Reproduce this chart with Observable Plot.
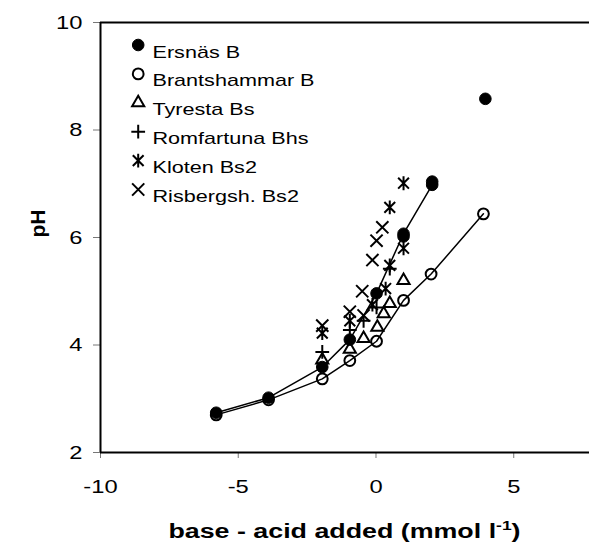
<!DOCTYPE html>
<html><head><meta charset="utf-8">
<script src="https://cdn.jsdelivr.net/npm/d3@7"></script>
<script src="https://cdn.jsdelivr.net/npm/@observablehq/plot@0.6"></script>
<style>body{margin:0;background:#fff}</style>
</head><body><div id="chart"></div>
<script>
// ---- data ----
const seriesNames = ["Ersnäs B","Brantshammar B","Tyresta Bs","Romfartuna Bhs","Kloten Bs2","Risbergsh. Bs2"];
const ersnasX = [-5.8,-3.9,-1.95,-0.95,0.02,1.0,2.04];
const ersnasY = [2.74,3.02,3.59,4.10,4.96,6.07,6.98];
const ersnasExtraX = [1.0,2.04,3.97];
const ersnasExtraY = [6.02,7.04,8.58];
const brantX = [-5.8,-3.9,-1.95,-0.95,0.02,1.0,2.0,3.9];
const brantY = [2.70,2.98,3.37,3.71,4.07,4.83,5.32,6.44];
const tyrestaX = [-1.95,-0.95,-0.45,0.05,0.28,0.5,1.0];
const tyrestaY = [3.72,3.92,4.12,4.33,4.58,4.77,5.2];
const romfX = [-1.95,-0.95,-0.45,0.02,0.5];
const romfY = [3.87,4.28,4.45,4.70,5.42];
const klotenX = [-1.95,-0.95,-0.13,0.35,0.5,1.0,0.5,1.0];
const klotenY = [4.22,4.45,4.75,5.05,5.48,5.80,6.56,7.01];
const risbX = [-1.95,-0.95,-0.45,-0.5,-0.13,0.02,0.23];
const risbY = [4.36,4.62,4.55,5.0,5.58,5.94,6.19];
const xTicks = [-10,-5,0,5];
const yTicks = [2,4,6,8,10];

const zip = (xs, ys) => xs.map((x, i) => ({x, y: ys[i]}));
const ersnas = zip(ersnasX, ersnasY);
const ersnasExtra = zip(ersnasExtraX, ersnasExtraY);
const brant = zip(brantX, brantY);
const tyresta = zip(tyrestaX, tyrestaY);
const romf = zip(romfX, romfY);
const kloten = zip(klotenX, klotenY);
const risb = zip(risbX, risbY);

// X with a vertical stroke (Excel-style asterisk)
const starSymbol = {
  draw(context, size) {
    const r = Math.sqrt(size) * 0.62;
    const d = r * 0.78;
    context.moveTo(0, -r); context.lineTo(0, r);
    context.moveTo(-d, -d); context.lineTo(d, d);
    context.moveTo(-d, d); context.lineTo(d, -d);
  }
};

const styles = [
  {symbol: "circle", fill: "#000", stroke: "#000", r: 5.8, strokeWidth: 1},
  {symbol: "circle", fill: "none", stroke: "#000", r: 5.4, strokeWidth: 2},
  {symbol: "triangle2", fill: "none", stroke: "#000", r: 5.8, strokeWidth: 2},
  {symbol: "plus", fill: "none", stroke: "#000", r: 4.5, strokeWidth: 2},
  {symbol: starSymbol, fill: "none", stroke: "#000", r: 6.3, strokeWidth: 2},
  {symbol: "times", fill: "none", stroke: "#000", r: 5.6, strokeWidth: 2}
];

const legendMarks = seriesNames.flatMap((name, i) => [
  Plot.dot([name], {frameAnchor: "top-left", dx: 37.7, dy: 22.5 + i * 28.9, ...styles[i]}),
  Plot.text([name], {frameAnchor: "top-left", dx: 52, dy: 23 + i * 28.9, textAnchor: "start", fontSize: 17, fill: "#000", className: "stretch-legend"})
]);

const FONT = "'Liberation Sans', Arial, Helvetica, sans-serif";
const plot = Plot.plot({
  width: 589, height: 557,
  marginLeft: 100, marginRight: 0, marginTop: 22, marginBottom: 105,
  x: {domain: [-10, 7.75]},
  y: {domain: [2, 10]},
  style: {fontFamily: FONT, fontSize: "19px", color: "#000", background: "#fff"},
  marks: [
    Plot.axisX({ticks: xTicks, tickFormat: d => String(d), tickSize: 6, tickPadding: 21, label: null, stroke: "#777", className: "stretch-tick"}),
    Plot.axisY({ticks: yTicks, tickFormat: d => String(d), tickSize: 7, tickPadding: 11, label: null, stroke: "#777", className: "stretch-tick"}),
    Plot.ruleY([2], {stroke: "#000", strokeWidth: 2}),
    Plot.ruleY([10], {stroke: "#000", strokeWidth: 2}),
    Plot.ruleX([-10], {stroke: "#000", strokeWidth: 2}),
    Plot.line(ersnas, {x: "x", y: "y", stroke: "#000", strokeWidth: 1.5}),
    Plot.line(brant, {x: "x", y: "y", stroke: "#000", strokeWidth: 1.5}),
    Plot.dot(brant, {x: "x", y: "y", ...styles[1]}),
    Plot.dot(tyresta, {x: "x", y: "y", ...styles[2]}),
    Plot.dot(romf, {x: "x", y: "y", ...styles[3]}),
    Plot.dot(kloten, {x: "x", y: "y", ...styles[4]}),
    Plot.dot(risb, {x: "x", y: "y", ...styles[5]}),
    Plot.dot(ersnas, {x: "x", y: "y", ...styles[0]}),
    Plot.dot(ersnasExtra, {x: "x", y: "y", ...styles[0]}),
    Plot.text(["pH"], {frameAnchor: "left", dx: -62, rotate: -90, fontWeight: "bold", fontSize: 21, fill: "#000"}),
    ...legendMarks
  ]
});
document.getElementById("chart").appendChild(plot);

// x-axis title with superscript
const svg = d3.select(plot);
const t = svg.append("text")
  .attr("class", "stretch-title")
  .attr("x", 100 + (589 - 100) / 2)
  .attr("y", 538)
  .attr("text-anchor", "middle")
  .attr("font-family", FONT)
  .attr("font-size", 20)
  .attr("font-weight", "bold")
  .attr("fill", "#000");
t.append("tspan").text("base - acid added (mmol l");
t.append("tspan").attr("font-size", 13).attr("dy", -8).text("-1");
t.append("tspan").attr("dy", 8).text(")");

// the reference typeface is horizontally wide: widen glyphs
function stretch(sel, k) {
  sel.each(function() {
    const w = this.getComputedTextLength();
    if (w > 0) {
      this.setAttribute("textLength", (w * k).toFixed(1));
      this.setAttribute("lengthAdjust", "spacingAndGlyphs");
    }
  });
}
stretch(svg.selectAll(".stretch-tick text"), 1.25);
stretch(svg.selectAll(".stretch-legend text"), 1.27);
stretch(svg.selectAll("text.stretch-title"), 1.34);
</script>
</body></html>
